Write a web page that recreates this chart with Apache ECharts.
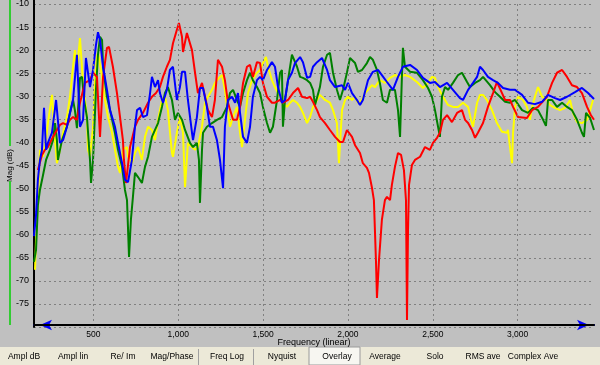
<!DOCTYPE html>
<html><head><meta charset="utf-8">
<script src="https://cdn.jsdelivr.net/npm/echarts@6/dist/echarts.min.js"></script>
<style>html,body{margin:0;padding:0;background:#c0c0c0}#c{width:600px;height:365px}</style>
</head><body><div id="c"></div>
<script>
// Frequency (Hz), Magnitude (dB)
const redData = [[173,-46.0],[197,-42.7],[215,-41.6],[232,-41.0],[262,-38.8],[285,-37.3],[303,-36.2],[321,-35.8],[344,-36.2],[362,-35.1],[380,-34.5],[403,-35.1],[421,-31.4],[450,-27.1],[480,-26.5],[498,-24.9],[521,-25.8],[539,-38.8],[557,-25.8],[580,-19.5],[592,-19.3],[615,-23.6],[639,-29.3],[657,-34.5],[674,-39.5],[680,-43.8],[692,-48.8],[698,-49.2],[716,-41.0],[745,-36.6],[763,-35.1],[792,-33.6],[822,-31.4],[845,-30.1],[869,-29.3],[892,-28.0],[910,-25.8],[933,-23.6],[951,-22.1],[969,-18.5],[992,-15.6],[1004,-14.1],[1022,-17.1],[1028,-20.4],[1051,-16.3],[1057,-16.3],[1081,-20.0],[1099,-24.9],[1116,-29.3],[1140,-27.1],[1158,-30.1],[1175,-33.0],[1199,-34.5],[1216,-30.8],[1234,-22.1],[1258,-23.6],[1275,-26.5],[1293,-31.4],[1323,-35.1],[1346,-35.1],[1364,-32.3],[1382,-27.1],[1405,-23.6],[1423,-23.2],[1440,-25.8],[1464,-22.6],[1482,-22.8],[1499,-27.1],[1523,-30.1],[1552,-31.4],[1570,-31.4],[1600,-30.8],[1617,-31.4],[1647,-30.8],[1676,-29.3],[1706,-28.2],[1729,-30.1],[1759,-30.4],[1777,-30.1],[1794,-31.2],[1818,-33.0],[1835,-34.5],[1865,-35.8],[1894,-37.3],[1924,-38.8],[1953,-39.9],[1971,-39.9],[1994,-37.3],[2024,-38.8],[2042,-40.6],[2071,-42.3],[2088,-44.5],[2112,-45.5],[2124,-46.6],[2141,-49.7],[2153,-52.5],[2165,-65.5],[2171,-73.7],[2183,-65.5],[2200,-56.8],[2218,-52.5],[2230,-51.8],[2248,-52.5],[2259,-49.2],[2277,-45.3],[2295,-42.3],[2313,-42.7],[2330,-46.0],[2342,-52.5],[2348,-78.5],[2354,-58.9],[2360,-49.2],[2377,-44.9],[2395,-43.8],[2425,-43.1],[2454,-41.0],[2483,-41.6],[2501,-40.1],[2525,-39.0],[2542,-37.9],[2560,-35.1],[2584,-34.1],[2613,-35.6],[2643,-33.6],[2672,-33.0],[2690,-35.1],[2708,-35.8],[2731,-37.3],[2749,-39.0],[2766,-37.9],[2796,-35.8],[2825,-32.3],[2855,-29.3],[2878,-26.9],[2908,-29.3],[2926,-30.8],[2955,-30.8],[2973,-32.3],[3002,-34.5],[3055,-34.7],[3085,-33.0],[3120,-32.3],[3173,-30.1],[3203,-27.1],[3232,-24.9],[3262,-24.3],[3291,-25.8],[3320,-27.6],[3350,-28.0],[3379,-29.3],[3409,-32.3],[3432,-34.1],[3450,-35.1]];

const greenData = [[150,-65.9],[162,-63.3],[173,-53.6],[185,-50.3],[203,-47.1],[221,-43.8],[244,-41.6],[262,-39.5],[274,-35.8],[285,-39.5],[291,-43.8],[303,-41.6],[315,-39.5],[344,-36.6],[362,-33.6],[380,-30.8],[391,-33.0],[403,-36.9],[421,-26.0],[433,-25.8],[445,-30.8],[462,-34.5],[480,-43.8],[486,-48.8],[498,-43.8],[515,-28.6],[527,-21.0],[539,-17.1],[551,-17.8],[557,-23.6],[580,-30.1],[598,-33.0],[627,-37.9],[645,-41.6],[669,-45.3],[686,-50.3],[698,-52.5],[710,-64.8],[721,-56.8],[733,-51.8],[745,-46.6],[763,-47.5],[786,-48.8],[804,-45.3],[822,-43.1],[845,-38.8],[863,-37.3],[881,-35.8],[904,-32.3],[922,-29.3],[939,-28.0],[963,-30.8],[981,-35.1],[998,-33.6],[1022,-35.1],[1040,-37.3],[1069,-40.1],[1087,-41.0],[1110,-40.1],[1122,-43.8],[1128,-53.1],[1140,-41.6],[1146,-37.9],[1169,-36.6],[1199,-35.8],[1228,-35.1],[1258,-34.5],[1287,-32.3],[1305,-29.3],[1323,-28.6],[1346,-30.8],[1364,-32.3],[1382,-29.3],[1405,-26.5],[1423,-24.9],[1440,-26.5],[1464,-28.0],[1482,-29.3],[1499,-32.3],[1523,-35.8],[1541,-37.9],[1558,-36.6],[1582,-30.8],[1600,-24.9],[1611,-24.3],[1617,-36.6],[1629,-30.8],[1647,-26.5],[1670,-21.0],[1676,-21.5],[1700,-23.6],[1718,-25.8],[1735,-26.0],[1759,-26.5],[1777,-27.1],[1794,-28.6],[1806,-31.9],[1835,-28.0],[1853,-23.6],[1877,-21.0],[1894,-20.6],[1912,-24.9],[1935,-28.6],[1953,-30.8],[1971,-28.6],[1994,-24.9],[2012,-21.7],[2042,-22.8],[2059,-24.7],[2083,-24.3],[2112,-22.8],[2130,-21.5],[2147,-22.1],[2171,-24.3],[2188,-27.1],[2206,-30.8],[2230,-31.4],[2248,-28.6],[2277,-28.6],[2295,-33.0],[2307,-38.8],[2318,-25.8],[2324,-19.5],[2336,-23.6],[2366,-24.7],[2407,-24.9],[2442,-26.5],[2472,-28.2],[2495,-30.1],[2513,-33.0],[2531,-36.6],[2542,-38.8],[2554,-30.1],[2572,-28.0],[2590,-28.6],[2619,-27.1],[2649,-25.4],[2672,-24.9],[2702,-26.9],[2719,-28.0],[2749,-27.1],[2778,-26.5],[2796,-25.8],[2837,-27.6],[2867,-29.1],[2896,-30.1],[2926,-31.2],[2955,-31.4],[2985,-30.8],[3026,-33.0],[3061,-33.6],[3091,-32.5],[3120,-33.0],[3150,-35.1],[3167,-36.4],[3179,-30.8],[3203,-30.8],[3232,-32.3],[3262,-31.4],[3291,-32.3],[3320,-33.0],[3350,-35.1],[3379,-37.9],[3391,-38.8],[3403,-33.6],[3427,-34.7],[3450,-37.3]];

const yellowData = [[156,-67.6],[162,-61.1],[173,-52.5],[185,-41.6],[203,-43.1],[221,-39.5],[232,-35.8],[256,-29.7],[262,-33.0],[274,-39.5],[285,-44.5],[303,-41.6],[321,-37.9],[344,-34.5],[362,-30.1],[380,-23.6],[391,-20.0],[403,-24.9],[409,-22.1],[421,-17.4],[439,-27.1],[462,-34.5],[468,-41.6],[480,-43.1],[498,-36.6],[509,-27.1],[521,-21.5],[527,-20.6],[551,-25.8],[568,-30.8],[586,-34.5],[610,-37.9],[627,-41.6],[645,-45.3],[657,-46.6],[674,-41.6],[698,-41.0],[704,-43.1],[727,-44.5],[745,-42.3],[763,-41.0],[786,-43.8],[804,-38.8],[822,-36.6],[845,-37.3],[863,-39.5],[881,-35.1],[904,-30.8],[922,-30.1],[939,-33.0],[963,-42.3],[969,-43.1],[992,-37.9],[1010,-34.5],[1028,-37.9],[1040,-49.7],[1057,-40.1],[1081,-41.0],[1099,-41.6],[1116,-41.0],[1140,-36.6],[1158,-31.4],[1175,-30.1],[1199,-28.6],[1216,-27.1],[1246,-25.8],[1258,-25.4],[1275,-28.6],[1287,-32.3],[1305,-36.6],[1323,-34.5],[1346,-32.3],[1364,-37.9],[1376,-41.0],[1393,-35.1],[1411,-29.3],[1435,-26.5],[1464,-24.9],[1482,-24.3],[1499,-22.8],[1517,-21.5],[1529,-23.6],[1552,-26.5],[1570,-28.0],[1588,-29.3],[1617,-31.4],[1641,-32.3],[1659,-31.4],[1676,-30.8],[1700,-31.4],[1718,-32.3],[1735,-33.6],[1759,-35.8],[1777,-34.5],[1794,-32.3],[1818,-30.8],[1835,-29.7],[1865,-30.8],[1894,-31.4],[1912,-33.0],[1935,-35.8],[1941,-40.1],[1947,-44.5],[1965,-33.0],[1983,-30.8],[2000,-30.1],[2024,-30.8],[2042,-30.1],[2059,-31.4],[2083,-30.8],[2100,-29.3],[2118,-28.6],[2141,-27.6],[2159,-28.0],[2188,-26.5],[2218,-27.1],[2248,-26.0],[2277,-25.4],[2307,-25.8],[2336,-25.4],[2366,-25.8],[2407,-26.9],[2442,-28.2],[2472,-27.1],[2495,-25.8],[2513,-26.0],[2531,-28.0],[2554,-29.7],[2572,-30.8],[2590,-31.9],[2619,-32.3],[2649,-32.3],[2678,-31.4],[2708,-32.3],[2725,-35.1],[2737,-36.6],[2761,-31.4],[2778,-29.7],[2796,-29.7],[2819,-30.8],[2849,-33.0],[2878,-35.8],[2908,-37.7],[2937,-37.9],[2943,-37.3],[2955,-41.0],[2967,-44.5],[2973,-37.9],[2985,-32.3],[3002,-30.1],[3032,-30.8],[3055,-32.3],[3073,-35.1],[3085,-32.3],[3102,-30.1],[3120,-28.0],[3144,-30.1],[3173,-30.8],[3191,-31.9],[3220,-32.5],[3250,-33.0],[3279,-32.5],[3309,-30.8],[3326,-33.6],[3350,-35.6],[3379,-35.8],[3409,-35.1],[3427,-33.0],[3444,-30.8]];

const blueData = [[150,-60.3],[162,-55.7],[173,-48.1],[185,-43.8],[197,-41.6],[209,-32.5],[221,-41.6],[232,-40.1],[256,-37.9],[280,-30.8],[303,-40.1],[321,-39.5],[344,-36.6],[362,-33.6],[380,-30.8],[403,-21.0],[421,-36.6],[439,-35.1],[456,-21.7],[480,-28.0],[498,-24.3],[515,-18.9],[527,-16.1],[539,-17.8],[557,-23.6],[580,-28.6],[598,-33.0],[627,-36.6],[645,-40.1],[669,-44.5],[686,-48.1],[704,-48.6],[727,-43.8],[745,-36.6],[757,-33.0],[775,-32.5],[792,-34.5],[816,-34.1],[834,-29.3],[845,-25.8],[863,-28.0],[881,-26.5],[892,-29.3],[910,-31.4],[933,-28.6],[951,-24.3],[969,-23.6],[992,-30.8],[1010,-28.0],[1022,-24.7],[1040,-24.7],[1057,-30.8],[1081,-37.9],[1087,-39.5],[1110,-34.5],[1128,-28.2],[1146,-28.2],[1169,-32.3],[1187,-36.6],[1205,-36.6],[1228,-39.5],[1246,-43.8],[1264,-49.9],[1275,-36.6],[1293,-30.8],[1317,-30.1],[1335,-31.4],[1352,-29.3],[1364,-33.6],[1382,-38.8],[1405,-40.1],[1423,-36.6],[1440,-30.1],[1464,-26.5],[1482,-25.8],[1499,-26.5],[1523,-24.3],[1552,-22.6],[1570,-23.6],[1588,-28.0],[1611,-31.4],[1629,-30.8],[1647,-26.5],[1670,-24.9],[1688,-22.8],[1718,-21.5],[1735,-22.6],[1759,-26.0],[1777,-25.8],[1794,-23.6],[1818,-22.6],[1847,-21.7],[1877,-24.3],[1894,-26.5],[1924,-28.0],[1965,-27.6],[1983,-28.6],[2000,-27.1],[2024,-29.3],[2053,-30.8],[2071,-31.9],[2088,-30.8],[2118,-26.5],[2147,-24.7],[2177,-24.3],[2200,-25.4],[2230,-26.9],[2265,-28.6],[2295,-25.8],[2324,-23.6],[2366,-23.2],[2407,-24.3],[2442,-26.0],[2483,-27.1],[2513,-26.9],[2542,-28.0],[2584,-27.1],[2619,-28.6],[2660,-30.4],[2678,-30.8],[2708,-28.6],[2737,-27.1],[2761,-25.8],[2778,-23.6],[2796,-24.3],[2825,-25.8],[2855,-26.5],[2884,-27.1],[2914,-28.2],[2955,-28.6],[2985,-28.6],[3026,-29.7],[3061,-31.4],[3102,-31.7],[3144,-31.2],[3179,-29.7],[3220,-30.4],[3250,-30.8],[3291,-30.1],[3338,-29.1],[3379,-28.2],[3415,-29.3],[3450,-30.6]];

const yTitle = 'Mag (dB)';
const xTitle = 'Frequency (linear)';
const tabNames = ['Ampl dB','Ampl lin','Re/ Im','Mag/Phase','Freq Log','Nyquist','Overlay','Average','Solo','RMS ave','Complex Ave'];

const chart = echarts.init(document.getElementById('c'));
const tabX = [24,73,123,172,227,282,337,385,435,483,533];
const graphics = [
  {type:'rect', shape:{x:9,y:0,width:2,height:146}, style:{fill:'#33cc33'}, z:1},
  {type:'rect', shape:{x:9,y:181,width:2,height:144}, style:{fill:'#33cc33'}, z:1},
  {type:'rect', shape:{x:33,y:0,width:2,height:5}, style:{fill:'#000'}, z:1},
  {type:'rect', shape:{x:0,y:347,width:600,height:18}, style:{fill:'#ece9d8'}, z:1},
  {type:'rect', shape:{x:309,y:347,width:51,height:18}, style:{fill:'#f7f6f1', stroke:'#9a9a9a', lineWidth:1}, z:2},
  {type:'line', shape:{x1:198.5,y1:349,x2:198.5,y2:365}, style:{stroke:'#a0a0a0', lineWidth:1}, z:2},
  {type:'line', shape:{x1:253.5,y1:349,x2:253.5,y2:365}, style:{stroke:'#a0a0a0', lineWidth:1}, z:2}
];
tabNames.forEach((t,i)=>{
  graphics.push({type:'text', x:tabX[i], y:357, z:3, style:{text:t, fill:'#000', font:'8.5px "Liberation Sans", Arial, sans-serif', align:'center', verticalAlign:'middle'}});
});

const lineSeries = (name, data, color) => ({
  name, type:'line', data, showSymbol:false, symbol:'none', smooth:false,
  lineStyle:{color, width:2}, itemStyle:{color}, animation:false, clip:true
});

chart.setOption({
  animation:false,
  backgroundColor:'#c0c0c0',
  grid:{left:34, right:6, top:4, bottom:38, containLabel:false, outerBoundsMode:'none'},
  xAxis:[{
    type:'value', min:150, max:3450, splitNumber:6, z:5,
    axisLine:{show:true, onZero:false, lineStyle:{color:'#000', width:2}},
    axisTick:{show:false},
    offset:-2,
    axisLabel:{show:true, color:'#000', fontSize:8.5, fontFamily:'"Liberation Sans", Arial, sans-serif', margin:5, showMinLabel:false, showMaxLabel:false,
      formatter:v=> (v%500===0 ? v.toLocaleString('en-US') : '')},
    splitLine:{show:true, showMinLine:false, showMaxLine:false, lineStyle:{color:'#808080', type:[2,3], width:1}},
    name:xTitle, nameLocation:'middle', nameGap:13, nameMoveOverlap:false,
    nameTextStyle:{color:'#000', fontSize:9, fontFamily:'"Liberation Sans", Arial, sans-serif'}
  },{
    type:'value', min:150, max:3450, position:'bottom', offset:-2, z:4,
    axisLine:{show:true, onZero:false, symbol:['arrow','arrow'], symbolSize:[8,12], symbolOffset:[6,-5], lineStyle:{color:'#0000ff', width:2}},
    axisTick:{show:false}, axisLabel:{show:false}, splitLine:{show:false}
  }],
  yAxis:{
    type:'value', min:-80, max:-10, interval:5,
    axisLine:{show:true, onZero:false, lineStyle:{color:'#000', width:2}},
    axisTick:{show:false},
    axisLabel:{color:'#000', fontSize:9, fontFamily:'"Liberation Sans", Arial, sans-serif', margin:5, showMinLabel:false},
    splitLine:{show:true, lineStyle:{color:'#808080', type:[2,3], width:1}},
    name:yTitle, nameLocation:'middle', nameGap:20, nameRotate:90, nameMoveOverlap:false,
    nameTextStyle:{color:'#000', fontSize:8, fontFamily:'"Liberation Sans", Arial, sans-serif'}
  },
  series:[
    lineSeries('Yellow', yellowData, '#ffff00'),
    lineSeries('Green', greenData, '#008000'),
    lineSeries('Red', redData, '#ff0000'),
    lineSeries('Blue', blueData, '#0000ff')
  ],
  graphic:{elements:graphics}
});
</script></body></html>
